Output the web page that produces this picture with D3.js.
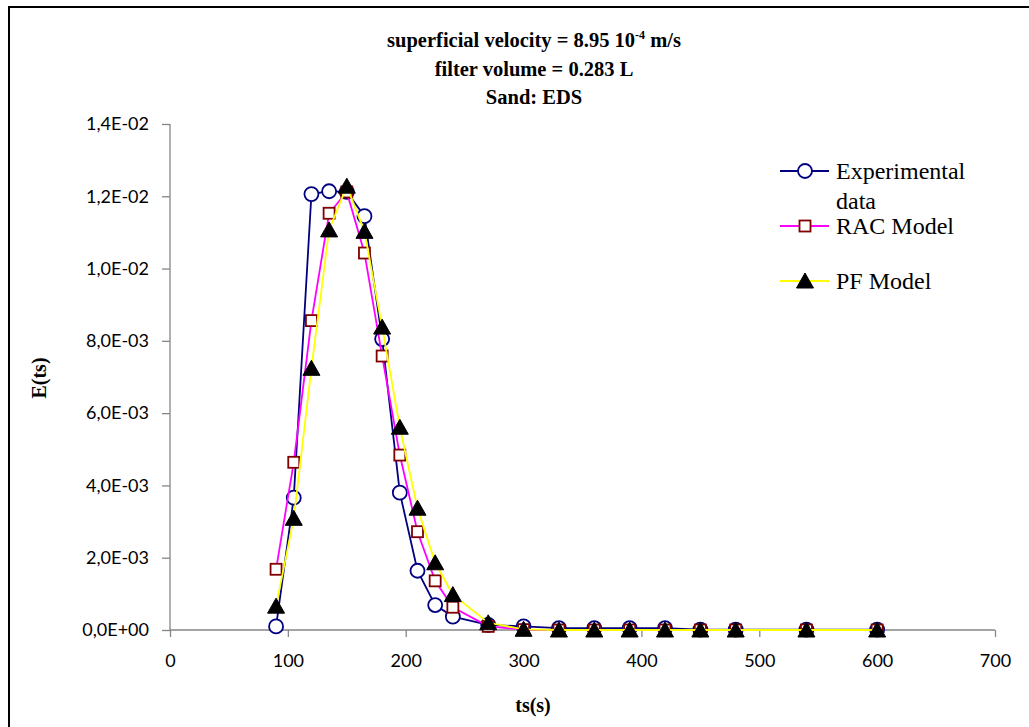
<!DOCTYPE html>
<html><head><meta charset="utf-8">
<script src="https://cdn.jsdelivr.net/npm/d3@7"></script>
<style>
html,body{margin:0;padding:0;background:#fff;overflow:hidden;}
</style></head>
<body>
<svg id="chart" width="1029" height="727"></svg>
<script>
const ts = [90,105,120,135,150,165,180,195,210,225,240,270,300,330,360,390,420,450,480,540,600];
const experimental = [1.0e-4,3.66e-3,1.206e-2,1.214e-2,1.212e-2,1.145e-2,8.05e-3,3.80e-3,1.64e-3,6.9e-4,3.7e-4,1.4e-4,1.0e-4,5e-5,5e-5,5e-5,5e-5,1e-5,1e-5,1e-5,1e-5];
const racModel = [1.68e-3,4.64e-3,8.56e-3,1.153e-2,1.212e-2,1.043e-2,7.58e-3,4.84e-3,2.72e-3,1.36e-3,6.3e-4,1.0e-4,1e-5,0,0,0,0,0,0,0,0];
const pfModel = [6.6e-4,3.09e-3,7.24e-3,1.107e-2,1.228e-2,1.103e-2,8.38e-3,5.61e-3,3.37e-3,1.86e-3,9.8e-4,2.0e-4,2e-5,0,0,0,0,0,0,0,0];
const xTicks = [0,100,200,300,400,500,600,700];
const yTicks = [0,0.002,0.004,0.006,0.008,0.010,0.012,0.014];
const yTickLabels = ["0,0E+00","2,0E-03","4,0E-03","6,0E-03","8,0E-03","1,0E-02","1,2E-02","1,4E-02"];
const titleLines = ["superficial velocity = 8.95 10", "filter volume = 0.283 L", "Sand: EDS"];
const seriesNames = ["Experimental data","RAC Model","PF Model"];

const svg = d3.select("#chart");
// outer frame
svg.append("rect").attr("x",9).attr("y",7).attr("width",1100).attr("height",800)
  .attr("fill","none").attr("stroke","#000").attr("stroke-width",2);

const x = d3.scaleLinear().domain([0,700]).range([170,995]);
const y = d3.scaleLinear().domain([0,0.014]).range([630,124]);
const axisColor = "#868686";
const tickFont = "Lato, 'Open Sans', sans-serif";

// y axis
const yAxis = svg.append("g").attr("transform","translate(170,0)")
  .call(d3.axisLeft(y).tickValues(yTicks).tickSize(8).tickPadding(13)
    .tickFormat((d,i)=>yTickLabels[i]));
// x axis
const xAxis = svg.append("g").attr("transform","translate(0,630)")
  .call(d3.axisBottom(x).tickValues(xTicks).tickSize(7).tickPadding(17).tickFormat(d3.format("d")));
[yAxis,xAxis].forEach(g=>{
  g.select(".domain").attr("stroke",axisColor).attr("stroke-width",1.3);
  g.selectAll(".tick line").attr("stroke",axisColor).attr("stroke-width",1.3);
  g.selectAll(".tick text").attr("fill","#000").style("font-family",tickFont).style("font-size","18px");
});
yAxis.select(".domain").attr("d","M0,124V630");
xAxis.select(".domain").attr("d","M170,0H995");

// titles
const title = svg.append("g").style("font-family","'Liberation Serif','Times New Roman',serif")
  .style("font-weight","bold").style("font-size","20.5px").attr("text-anchor","middle");
const t1 = title.append("text").attr("x",534).attr("y",47);
t1.append("tspan").text(titleLines[0]);
t1.append("tspan").text("-4").attr("dy",-8).style("font-size","12px");
t1.append("tspan").text(" m/s").attr("dy",8);
title.append("text").attr("x",534).attr("y",76).text(titleLines[1]);
title.append("text").attr("x",534).attr("y",104).text(titleLines[2]);

svg.append("text").attr("transform","translate(46,378) rotate(-90)").attr("text-anchor","middle")
  .style("font-family","'Liberation Serif',serif").style("font-weight","bold").style("font-size","20px")
  .text("E(ts)");
svg.append("text").attr("x",533).attr("y",712).attr("text-anchor","middle")
  .style("font-family","'Liberation Serif',serif").style("font-weight","bold").style("font-size","20px")
  .text("ts(s)");

const series = [
  {name:seriesNames[0], vals:experimental, line:"#000080", marker:"circle", fill:"#fff", stroke:"#000080"},
  {name:seriesNames[1], vals:racModel, line:"#FF00FF", marker:"square", fill:"#fff", stroke:"#800000"},
  {name:seriesNames[2], vals:pfModel, line:"#FFFF00", marker:"triangle", fill:"#000", stroke:"#000"}
];
const lineGen = d3.line().x(d=>x(d[0])).y(d=>y(d[1]));
function drawMarker(g, type, cx, cy, s){
  if(type==="circle"){
    g.append("circle").attr("cx",cx).attr("cy",cy).attr("r",7).attr("fill",s.fill).attr("stroke",s.stroke).attr("stroke-width",1.8);
  } else if(type==="square"){
    g.append("rect").attr("x",cx-5.5).attr("y",cy-5.5).attr("width",11).attr("height",11).attr("fill",s.fill).attr("stroke",s.stroke).attr("stroke-width",1.8);
  } else {
    g.append("path").attr("d",`M${cx},${cy-8}L${cx+8.5},${cy+7}L${cx-8.5},${cy+7}Z`).attr("fill",s.fill).attr("stroke",s.stroke).attr("stroke-width",1);
  }
}
series.forEach(s=>{
  const pts = ts.map((t,i)=>[t,s.vals[i]]);
  const g = svg.append("g");
  g.append("path").attr("d",lineGen(pts)).attr("fill","none").attr("stroke",s.line).attr("stroke-width",1.8);
  pts.forEach(p=>drawMarker(g,s.marker,x(p[0]),y(p[1]),s));
});

// legend
const leg = svg.append("g").style("font-family","'Liberation Serif',serif").style("font-size","24px");
const legRows = [171,226,281];
series.forEach((s,i)=>{
  const ly = legRows[i];
  leg.append("line").attr("x1",780).attr("x2",829).attr("y1",ly).attr("y2",ly).attr("stroke",s.line).attr("stroke-width",1.8);
  drawMarker(leg,s.marker,805,ly,s);
});
leg.append("text").attr("x",836).attr("y",179).text("Experimental");
leg.append("text").attr("x",836).attr("y",209).text("data");
leg.append("text").attr("x",836).attr("y",234).text("RAC Model");
leg.append("text").attr("x",836).attr("y",289).text("PF Model");
</script>
</body></html>
